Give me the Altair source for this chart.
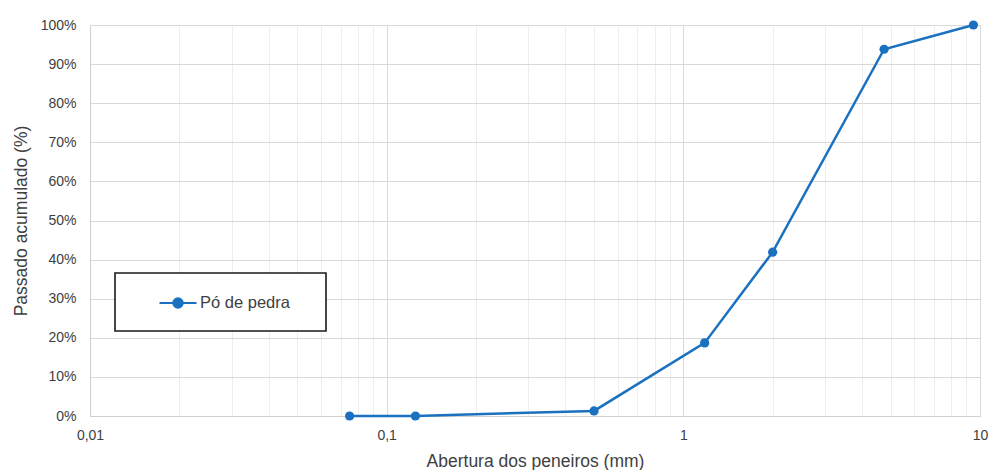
import altair as alt
import pandas as pd

# Sieve openings (mm) and cumulative passing fraction
abertura_mm = [0.075, 0.125, 0.5, 1.18, 2.0, 4.75, 9.5]
passado = [0.0, 0.0, 0.013, 0.187, 0.419, 0.938, 1.0]
serie = ["Pó de pedra"] * len(abertura_mm)

# Axis ticks: decades get labels and darker grid, the rest are minor grid lines
decadas = [0.01, 0.1, 1, 10]
x_ticks = sorted({round(d * k, 6) for d in decadas[:-1] for k in range(1, 10)} | {10})
y_ticks = [i / 10 for i in range(11)]
rotulos_x = {0.01: "0,01", 0.1: "0,1", 1: "1", 10: "10"}

df = pd.DataFrame({"abertura": abertura_mm, "passado": passado, "serie": serie})

blue = "#1a71c0"
font = "Liberation Sans"
text_color = "#404040"

label_expr = " : ".join(
    f"datum.value == {v} ? '{t}'" for v, t in rotulos_x.items()
) + " : ''"
major_test = " || ".join(f"datum.value == {v}" for v in decadas)

x_axis = alt.Axis(
    values=x_ticks,
    labelExpr=label_expr,
    gridColor={"condition": {"test": major_test, "value": "#d9d9d9"}, "value": "#eeeeee"},
    ticks=False,
    domainColor="#d0d0d0",
    labelPadding=12,
    labelFontSize=14,
    labelColor=text_color,
    labelFont=font,
    labelFlush=False,
    labelOverlap=False,
    title="Abertura dos peneiros (mm)",
    titleFont=font,
    titleFontSize=17.5,
    titleFontWeight="normal",
    titleColor=text_color,
    titlePadding=10,
)

y_axis = alt.Axis(
    values=y_ticks,
    format=".0%",
    gridColor="#d9d9d9",
    ticks=False,
    domainColor="#d0d0d0",
    labelPadding=14,
    labelFontSize=14,
    labelColor=text_color,
    labelFont=font,
    title="Passado acumulado (%)",
    titleFont=font,
    titleFontSize=17.5,
    titleFontWeight="normal",
    titleColor=text_color,
    titlePadding=10,
)

# Line with a centred dot, used as the legend symbol
symbol_path = "M-1,0H1M0.25,0A0.25,0.25 0 1,1 -0.25,0A0.25,0.25 0 1,1 0.25,0Z"

legend = alt.Legend(
    orient="none",
    legendX=58,
    legendY=258,
    title=None,
    padding=0,
    symbolType=symbol_path,
    symbolSize=1369,
    symbolStrokeWidth=2.2,
    symbolFillColor=blue,
    symbolStrokeColor=blue,
    symbolOffset=10,
    labelFont=font,
    labelFontSize=16.5,
    labelColor=text_color,
    labelOffset=2,
)

# Framed white box behind the legend entry
legend_box = (
    alt.Chart(pd.DataFrame({"caixa": [0]}))
    .mark_rect(fill="#ffffff", stroke="#1a1a1a", strokeWidth=1.6)
    .encode(x=alt.value(25), x2=alt.value(236), y=alt.value(248), y2=alt.value(306))
)

curve = (
    alt.Chart(df)
    .mark_line(strokeWidth=2.5, point=alt.OverlayMarkDef(size=85, filled=True, opacity=1))
    .encode(
        x=alt.X("abertura:Q", scale=alt.Scale(type="log", domain=[0.01, 10], nice=False), axis=x_axis),
        y=alt.Y("passado:Q", scale=alt.Scale(domain=[0, 1], nice=False), axis=y_axis),
        color=alt.Color("serie:N", scale=alt.Scale(range=[blue]), legend=legend),
    )
)

chart = (
    alt.layer(legend_box, curve)
    .properties(
        width=890,
        height=391,
        autosize="none",
        padding={"left": 90, "top": 25, "right": 10, "bottom": 54},
    )
    .configure_view(stroke=None)
    .configure(background="#ffffff")
)

chart.save("out.html", embed_options={"renderer": "svg", "actions": False})
